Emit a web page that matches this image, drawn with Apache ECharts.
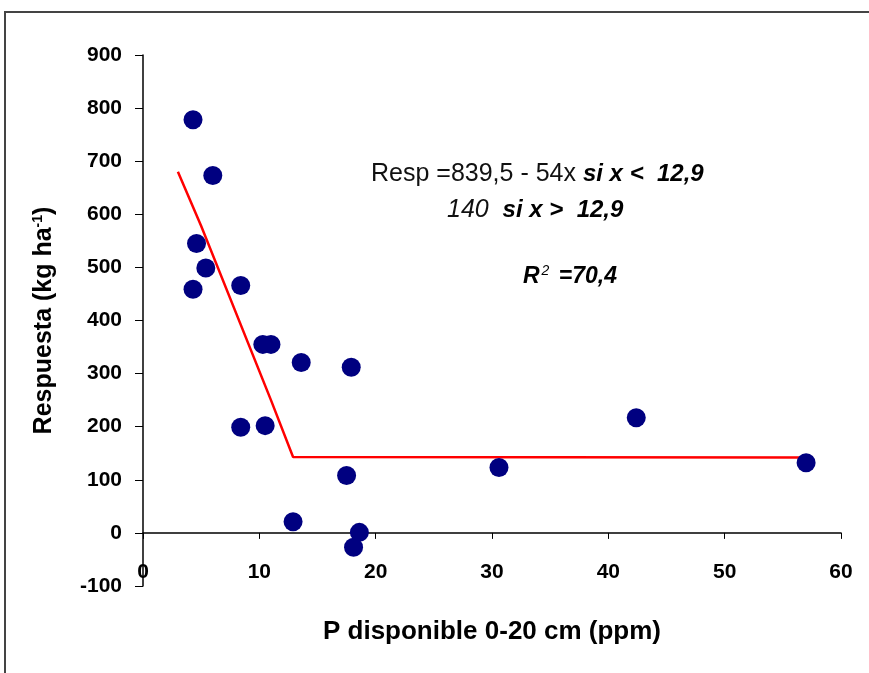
<!DOCTYPE html>
<html>
<head>
<meta charset="utf-8">
<script src="https://cdn.jsdelivr.net/npm/echarts@6/dist/echarts.min.js"></script>
<style>
html,body{margin:0;padding:0;background:#fff;}
#c{width:869px;height:673px;}
</style>
</head>
<body>
<div id="c"></div>
<script>
// Observed points: P disponible (ppm) vs Respuesta (kg/ha)
const pValues = [4.3, 6.0, 4.6, 5.4, 4.3, 8.4, 10.3, 11.0, 13.6, 17.9, 8.4, 10.5, 17.5, 12.9, 18.6, 18.1, 30.6, 42.4, 57.0];
const respValues = [778, 673, 545, 499, 459, 466, 355, 355, 321, 312, 199, 202, 108, 21, 1, -27, 123, 217, 132];
// Fitted broken-line model (as drawn)
const fitX = [3.0, 5.0, 11.0, 12.9, 57.0];
const fitY = [680, 578, 250, 143, 142];
const xTicks = [0, 10, 20, 30, 40, 50, 60];
const yTicks = [-100, 0, 100, 200, 300, 400, 500, 600, 700, 800, 900];

const pts = pValues.map((x, i) => [x, respValues[i]]);
const fit = fitX.map((x, i) => [x, fitY[i]]);

const FONT = 'Liberation Sans, Arial, sans-serif';
const chart = echarts.init(document.getElementById('c'));
chart.setOption({
  backgroundColor: '#ffffff',
  animation: false,
  grid: { left: 143, right: 28, top: 55, bottom: 87, outerBoundsMode: 'none', containLabel: false },
  xAxis: {
    type: 'value', min: xTicks[0], max: xTicks[xTicks.length - 1], interval: 10,
    axisLine: { onZero: true, lineStyle: { color: '#000', width: 1.5 } },
    axisTick: { show: true, length: 6, inside: false, lineStyle: { color: '#000' } },
    axisLabel: { color: '#000', fontFamily: FONT, fontWeight: 'bold', fontSize: 21, margin: -24 },
    splitLine: { show: false },
    name: 'P disponible 0-20 cm (ppm)', nameLocation: 'middle', nameGap: 33,
    nameTextStyle: { color: '#000', fontFamily: FONT, fontWeight: 'bold', fontSize: 26 }
  },
  yAxis: {
    type: 'value', min: yTicks[0], max: yTicks[yTicks.length - 1], interval: 100,
    axisLine: { show: true, onZero: false, lineStyle: { color: '#000', width: 1.5 } },
    axisTick: { show: true, length: 8, lineStyle: { color: '#000' } },
    axisLabel: { color: '#000', fontFamily: FONT, fontWeight: 'bold', fontSize: 21, margin: 21 },
    splitLine: { show: false },
    name: '{a|Respuesta (kg ha}{s|-1}{a|)}', nameLocation: 'middle', nameGap: 86, nameRotate: 90,
    nameTextStyle: {
      color: '#000', fontFamily: FONT, fontWeight: 'bold', fontSize: 25,
      rich: {
        a: { fontFamily: FONT, fontWeight: 'bold', fontSize: 25, color: '#000' },
        s: { fontFamily: FONT, fontWeight: 'bold', fontSize: 14, color: '#000', verticalAlign: 'top', padding: [0, 0, 12, 0] }
      }
    }
  },
  series: [
    {
      type: 'line', data: fit, showSymbol: false, symbol: 'none',
      lineStyle: { color: '#ff0000', width: 2.5 }, z: 2
    },
    {
      type: 'scatter', data: pts, symbol: 'circle', symbolSize: 19,
      itemStyle: { color: '#000080', opacity: 1 }, z: 3
    }
  ],
  graphic: [
    { type: 'rect', shape: { x: 5, y: 12, width: 1000, height: 800 },
      style: { fill: 'none', stroke: '#444', lineWidth: 2 }, silent: true },
    { type: 'text', left: 371, top: 162,
      style: { text: '{n|Resp =839,5 - 54x }{b|si x <  12,9}', font: '25px ' + FONT,
        rich: { n: { fontFamily: FONT, fontSize: 25, fill: '#111' },
                b: { fontFamily: FONT, fontSize: 24, fontWeight: 'bold', fontStyle: 'italic', fill: '#000' } } } },
    { type: 'text', left: 447, top: 198,
      style: { text: '{n|140  }{b|si x >  12,9}', font: '25px ' + FONT,
        rich: { n: { fontFamily: FONT, fontSize: 25, fontStyle: 'italic', fill: '#111' },
                b: { fontFamily: FONT, fontSize: 24, fontWeight: 'bold', fontStyle: 'italic', fill: '#000' } } } },
    { type: 'text', left: 523, top: 264,
      style: { text: '{b|R}{s|2}{b| =70,4}', font: '23px ' + FONT,
        rich: { b: { fontFamily: FONT, fontSize: 23, fontWeight: 'bold', fontStyle: 'italic', fill: '#000' },
                s: { fontFamily: FONT, fontSize: 14, fontStyle: 'italic', fill: '#000', verticalAlign: 'top', padding: [0, 3, 12, 2] } } } }
  ]
});
</script>
</body>
</html>
